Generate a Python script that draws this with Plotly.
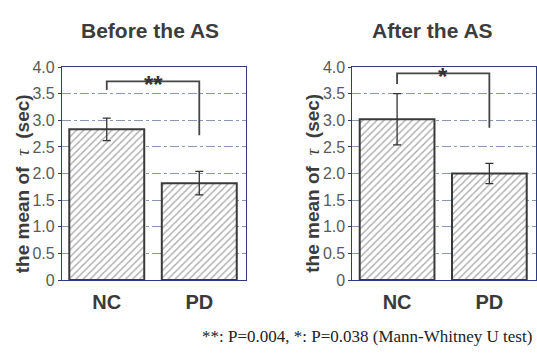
import plotly.graph_objects as go

# Mean decay constant tau (sec) per group, before and after the AS
groups = ["NC", "PD"]
before_mean = [2.83, 1.82]
before_err = [0.21, 0.22]
after_mean = [3.02, 2.00]
after_err = [0.48, 0.19]

panel_titles = ["Before the AS", "After the AS"]
sig_marks = ["**", "*"]
# bracket: top level, left-leg bottom, right-leg bottom (sec)
before_bracket = [3.73, 3.57, 2.72]
after_bracket = [3.88, 3.68, 2.86]

y_ticks = [0, 0.5, 1.0, 1.5, 2.0, 2.5, 3.0, 3.5, 4.0]
y_ticktext = ["0", "0.5", "1.0", "1.5", "2.0", "2.5", "3.0", "3.5", "4.0"]
footnote = "**: P=0.004, *: P=0.038 (Mann-Whitney U test)"

W, H = 537, 360
fig = go.Figure()

panels = [
    (before_mean, before_err, before_bracket, "x", "y"),
    (after_mean, after_err, after_bracket, "x2", "y2"),
]

for means, errs, br, xa, ya in panels:
    fig.add_trace(go.Bar(
        x=[0, 1], y=means, width=0.81, xaxis=xa, yaxis=ya,
        marker=dict(
            color="white",
            line=dict(color="#3a3a3a", width=2),
            pattern=dict(shape="/", fgcolor="#555555", bgcolor="white",
                         size=5, solidity=0.28),
        ),
        error_y=dict(type="data", array=errs, visible=True,
                     color="#333333", thickness=1.3, width=4),
        showlegend=False, hoverinfo="skip",
    ))
    # significance bracket
    fig.add_trace(go.Scatter(
        x=[0, 0, 1, 1], y=[br[1], br[0], br[0], br[2]],
        mode="lines", line=dict(color="#454545", width=1.8),
        xaxis=xa, yaxis=ya, showlegend=False, hoverinfo="skip",
    ))

grid_color = "#8898b6"
frame_color = "#2c3c7c"
axis_common = dict(
    showline=True, linecolor=frame_color, linewidth=1, mirror=True,
)
y_common = dict(
    range=[0, 4], tickvals=y_ticks, ticktext=y_ticktext,
    ticks="outside", ticklen=3, tickcolor=frame_color,
    tickfont=dict(family="Liberation Sans", size=16, color="#5a5a5a"),
    showgrid=True, gridcolor=grid_color, griddash="dashdot", gridwidth=1,
    zeroline=False, **axis_common,
)
x_common = dict(
    range=[-0.485, 1.5], tickvals=[0, 1],
    ticktext=["<b>" + g + "</b>" for g in groups],
    tickfont=dict(family="Liberation Sans", size=20, color="#3a3a3a"),
    ticklabelstandoff=4,
    showgrid=False, zeroline=False, ticks="", **axis_common,
)

ydom = [1 - 285.5 / H, 1 - 62 / H]
fig.update_layout(
    width=W, height=H,
    margin=dict(l=0, r=0, t=0, b=0),
    paper_bgcolor="white", plot_bgcolor="white",
    barmode="overlay",
    xaxis=dict(domain=[62 / W, 246 / W], anchor="y", **x_common),
    yaxis=dict(domain=ydom, anchor="x", **y_common),
    xaxis2=dict(domain=[353 / W, 536.5 / W], anchor="y2", **x_common),
    yaxis2=dict(domain=ydom, anchor="x2", **y_common),
)

ytitle = ("the mean of  <span style='font-family:Liberation Serif;"
          "font-weight:normal'><i>τ</i></span>  (sec)")
title_font = dict(family="Liberation Sans", size=21, color="#3c3c3c")
label_font = dict(family="Liberation Sans", size=19, color="#3c3c3c")

for (title, mark, br, xa, ya, cx, tx) in [
    (panel_titles[0], sig_marks[0], before_bracket, "x", "y", 150, 22),
    (panel_titles[1], sig_marks[1], after_bracket, "x2", "y2", 433, 313),
]:
    fig.add_annotation(text="<b>" + title + "</b>", x=cx / W, y=1 - 24 / H,
                       xref="paper", yref="paper", showarrow=False,
                       font=title_font, xanchor="center", yanchor="middle")
    fig.add_annotation(text="<b>" + ytitle + "</b>", x=tx / W, y=1 - 184 / H,
                       xref="paper", yref="paper", showarrow=False,
                       textangle=-90, font=label_font,
                       xanchor="center", yanchor="middle")
    fig.add_annotation(text="<b>" + mark + "</b>", x=0.5, y=br[0],
                       xref=xa, yref=ya, showarrow=False,
                       font=dict(family="Liberation Sans", size=24, color="#333333"),
                       xanchor="center", yanchor="middle", yshift=-3)

fig.add_annotation(text=footnote, x=535 / W, y=1 - 345 / H,
                   xref="paper", yref="paper", showarrow=False,
                   font=dict(family="Liberation Serif", size=17, color="#222222"),
                   xanchor="right", yanchor="middle")

fig.write_html("out.html")
